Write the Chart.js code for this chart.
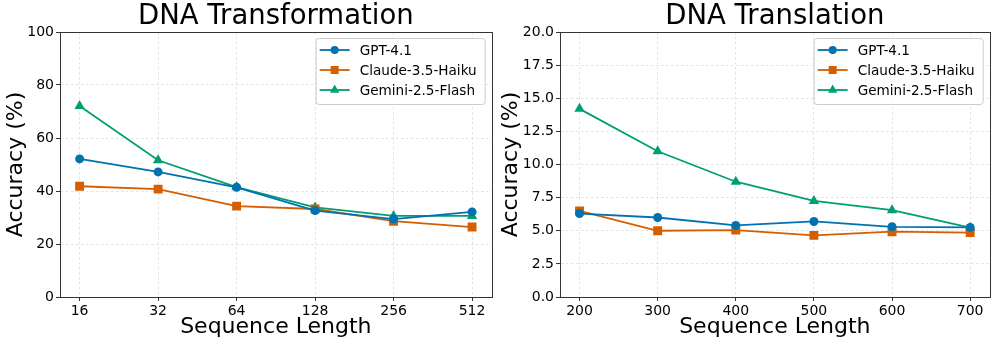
<!DOCTYPE html>
<html>
<head>
<meta charset="utf-8">
<script src="https://cdn.jsdelivr.net/npm/chart.js@4.4.1/dist/chart.umd.min.js"></script>
<style>
  body { margin: 0; background: #fff; }
  #wrap { position: relative; width: 996px; height: 345px; }
  canvas { position: absolute; top: 0; }
  #chart-left { left: 0; }
  #chart-right { left: 498px; }
</style>
</head>
<body>
<div id="wrap">
  <canvas id="chart-left" width="498" height="345"></canvas>
  <canvas id="chart-right" width="498" height="345"></canvas>
</div>
<script>
// model names and colours
const models = ["GPT-4.1", "Claude-3.5-Haiku", "Gemini-2.5-Flash"];
const modelColors = ["#0072B2", "#D55E00", "#009E73"];

// DNA Transformation (x is log2-spaced, so plotted by index)
const transformLengths = ["16", "32", "64", "128", "256", "512"];
const gptTransform = [52.1, 47.2, 41.4, 32.6, 29.4, 32.1];
const claudeTransform = [41.8, 40.7, 34.3, 33.2, 28.6, 26.4];
const geminiTransform = [72.1, 51.6, 41.5, 33.8, 30.6, 30.6];
const transformYTicks = [0, 20, 40, 60, 80, 100];

// DNA Translation
const translationLengths = [200, 300, 400, 500, 600, 700];
const gptTranslate = [6.3, 6.0, 5.4, 5.7, 5.3, 5.25];
const claudeTranslate = [6.5, 5.0, 5.05, 4.65, 4.93, 4.86];
const geminiTranslate = [14.2, 11.0, 8.7, 7.25, 6.55, 5.23];
const translationYTicks = [0, 2.5, 5, 7.5, 10, 12.5, 15, 17.5, 20];

Chart.defaults.font.family = "'DejaVu Sans', sans-serif";
Chart.defaults.color = "#000";

const pointStyles = ["circle", "rect", "triangle"];
const pointSizes = [4.5, 6.3, 6];

// matplotlib draws the full box round the axes
const framePlugin = {
  id: "frame",
  afterDatasetsDraw(chart) {
    const { ctx, chartArea: a } = chart;
    ctx.save();
    ctx.strokeStyle = "#333";
    ctx.lineWidth = 1;
    ctx.strokeRect(Math.round(a.left) + 0.5, Math.round(a.top) + 0.5,
      Math.round(a.right - a.left), Math.round(a.bottom - a.top));
    ctx.restore();
  }
};

// legend with a line + marker per entry, top right inside the axes
const lineLegend = {
  id: "lineLegend",
  afterDraw(chart) {
    const { ctx, chartArea: a } = chart;
    const sets = chart.data.datasets;
    ctx.save();
    ctx.font = "13.6px 'DejaVu Sans', sans-serif";
    let maxW = 0;
    sets.forEach(d => { maxW = Math.max(maxW, ctx.measureText(d.label).width); });
    const w = 44 + maxW + 8, h = 66;
    const x0 = a.right - 7 - w, y0 = a.top + 6;
    ctx.fillStyle = "rgba(255,255,255,0.8)";
    ctx.strokeStyle = "#cccccc";
    ctx.lineWidth = 1;
    ctx.beginPath();
    ctx.roundRect(x0 + 0.5, y0 + 0.5, w, h, 3);
    ctx.fill();
    ctx.stroke();
    sets.forEach((d, i) => {
      const y = y0 + 12 + i * 20;
      ctx.strokeStyle = d.borderColor;
      ctx.lineWidth = d.borderWidth;
      ctx.beginPath();
      ctx.moveTo(x0 + 4, y);
      ctx.lineTo(x0 + 34, y);
      ctx.stroke();
      ctx.fillStyle = d.backgroundColor;
      Chart.helpers.drawPoint(ctx, {
        pointStyle: d.pointStyle, radius: d.pointRadius * 0.9, borderWidth: 0
      }, x0 + 19, y);
      ctx.fillStyle = "#000";
      ctx.textBaseline = "middle";
      ctx.fillText(d.label, x0 + 44, y + 1);
    });
    ctx.restore();
  }
};

function makeSets(seriesList, xs) {
  return seriesList.map((vals, i) => ({
    label: models[i],
    data: vals.map((v, j) => ({ x: xs[j], y: v })),
    borderColor: modelColors[i],
    backgroundColor: modelColors[i],
    borderWidth: 1.8,
    pointStyle: pointStyles[i],
    pointRadius: pointSizes[i],
    pointBorderWidth: 0,
    tension: 0
  }));
}

function makeChart(id, cfg) {
  return new Chart(document.getElementById(id), {
    type: "line",
    data: { datasets: makeSets(cfg.series, cfg.xs) },
    options: {
      responsive: false,
      animation: false,
      layout: { padding: { left: 0, right: 6, top: 0, bottom: 0 } },
      plugins: {
        legend: { display: false },
        tooltip: { enabled: false },
        title: {
          display: true,
          text: cfg.title,
          fullSize: false,
          font: { size: 27.5, weight: "normal", lineHeight: 1 },
          padding: { top: 3, bottom: 1.5 },
          color: "#000"
        }
      },
      scales: {
        x: {
          type: "linear",
          min: cfg.xMin,
          max: cfg.xMax,
          afterBuildTicks: s => { s.ticks = cfg.xs.map(v => ({ value: v })); },
          afterFit: s => { s.height = 48; },
          ticks: {
            font: { size: 14 },
            padding: 2,
            maxRotation: 0,
            callback: cfg.xLabel
          },
          grid: { color: "rgba(0,0,0,0.11)", tickColor: "#333", tickLength: 4 },
          border: { color: "#333", width: 1, dash: [2.5, 2.5] },
          title: {
            display: true,
            text: "Sequence Length",
            font: { size: 22 },
            padding: { top: 0, bottom: 5 }
          }
        },
        y: {
          min: cfg.yTicks[0],
          max: cfg.yTicks[cfg.yTicks.length - 1],
          afterBuildTicks: s => { s.ticks = cfg.yTicks.map(v => ({ value: v })); },
          afterFit: s => { s.width = cfg.yWidth; },
          ticks: {
            font: { size: 14 },
            padding: 2,
            callback: cfg.yLabel
          },
          grid: { color: "rgba(0,0,0,0.11)", tickColor: "#333", tickLength: 4 },
          border: { color: "#333", width: 1, dash: [2.5, 2.5] },
          title: {
            display: true,
            text: "Accuracy (%)",
            font: { size: 22 },
            padding: { top: cfg.yTitlePad, bottom: 0 }
          }
        }
      }
    },
    plugins: [framePlugin, lineLegend]
  });
}

makeChart("chart-left", {
  title: "DNA Transformation",
  series: [gptTransform, claudeTransform, geminiTransform],
  xs: transformLengths.map((_, i) => i),
  xMin: -0.25,
  xMax: transformLengths.length - 0.75,
  xLabel: v => transformLengths[v],
  yTicks: transformYTicks,
  yLabel: v => String(v),
  yWidth: 60,
  yTitlePad: 3
});

makeChart("chart-right", {
  title: "DNA Translation",
  series: [gptTranslate, claudeTranslate, geminiTranslate],
  xs: translationLengths,
  xMin: 175,
  xMax: 725,
  xLabel: v => String(v),
  yTicks: translationYTicks,
  yLabel: v => v.toFixed(1),
  yWidth: 62,
  yTitlePad: 0
});
</script>
</body>
</html>
